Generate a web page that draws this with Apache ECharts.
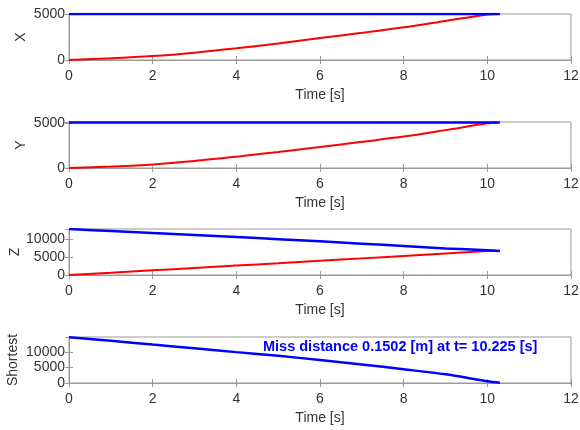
<!DOCTYPE html>
<html>
<head>
<meta charset="utf-8">
<script src="https://cdn.jsdelivr.net/npm/echarts@6/dist/echarts.min.js"></script>
<style>
  html, body { margin: 0; padding: 0; background: #fff; }
  #main { width: 580px; height: 430px; }
</style>
</head>
<body>
<div id="main"></div>
<script>
// time samples [s]
var tRed = [0, 1, 2, 3, 4, 5, 6, 7, 8, 9, 10, 10.225];
var tBlue = [0, 1, 2, 3, 4, 5, 6, 7, 8, 9, 10, 10.3];

// red curves (pursuer)
var xRed = [0, 180, 430, 800, 1270, 1800, 2390, 2950, 3550, 4250, 4950, 5000];
var yRed = [0, 170, 400, 780, 1260, 1780, 2330, 2900, 3480, 4200, 4950, 5050];
var zRed = [0, 640, 1290, 1940, 2600, 3250, 3920, 4590, 5260, 5940, 6620, 6720];

// blue curves (target)
var xBlue = [5000, 5000, 5000, 5000, 5000, 5000, 5000, 5000, 5000, 5000, 5000, 5000];
var yBlue = [5050, 5050, 5050, 5050, 5050, 5050, 5050, 5050, 5050, 5050, 5050, 5050];
var zBlue = [12700, 12150, 11600, 11050, 10500, 9900, 9300, 8650, 8000, 7350, 6850, 6650];
var shortest = [14800, 13650, 12450, 11250, 10000, 8800, 7450, 6000, 4450, 2800, 600, 100];

var yNames = ['X', 'Y', 'Z', 'Shortest'];
var yMax = [5000, 5100, 12700, 14900];
var xTicks = [0, 12, 2];
var missText = 'Miss distance 0.1502 [m] at t= 10.225 [s]';

var dom = document.getElementById('main');
var myChart = echarts.init(dom);

var font = 'Liberation Sans, Arial, Helvetica, sans-serif';
var gridTops = [14, 122, 229, 337];
var nameGaps = [41, 41, 47, 49];

function pairs(t, v) {
    var out = [];
    for (var i = 0; i < t.length; i++) out.push([t[i], v[i]]);
    return out;
}
function plain(v) { return String(v); }

var grids = [], xAxes = [], yAxes = [], series = [];
var redSets = [xRed, yRed, zRed, null];
var blueSets = [xBlue, yBlue, zBlue, shortest];

for (var g = 0; g < 4; g++) {
    grids.push({left: 69, right: 9, top: gridTops[g], height: 46, outerBoundsMode: 'none',
        containLabel: false,
        show: true, borderColor: '#999', borderWidth: 1, backgroundColor: '#fff'});
    xAxes.push({
        type: 'value', gridIndex: g, min: xTicks[0], max: xTicks[1], interval: xTicks[2],
        position: 'bottom',
        name: 'Time [s]', nameLocation: 'middle', nameGap: 28, nameMoveOverlap: false,
        nameTextStyle: {fontFamily: font, fontSize: 14, color: '#333'},
        axisLine: {lineStyle: {color: '#999'}},
        axisTick: {inside: true, length: 4, lineStyle: {color: '#999'}},
        axisLabel: {fontFamily: font, fontSize: 14, color: '#333', margin: 9, formatter: plain},
        splitLine: {show: false}
    });
    xAxes.push({
        type: 'value', gridIndex: g, min: xTicks[0], max: xTicks[1], interval: xTicks[2],
        position: 'top',
        axisLine: {lineStyle: {color: '#999'}},
        axisTick: {inside: true, length: 4, lineStyle: {color: '#999'}},
        axisLabel: {show: false},
        splitLine: {show: false}
    });
    yAxes.push({
        type: 'value', gridIndex: g, min: 0, max: yMax[g], interval: 5000,
        position: 'left',
        name: yNames[g], nameLocation: 'middle', nameGap: nameGaps[g], nameMoveOverlap: false,
        nameTextStyle: {fontFamily: font, fontSize: 14, color: '#333'},
        axisLine: {show: true, lineStyle: {color: '#999'}},
        axisTick: {show: true, inside: true, length: 4, lineStyle: {color: '#999'}},
        axisLabel: {fontFamily: font, fontSize: 14, color: '#333', margin: 4,
            showMaxLabel: g === 0, formatter: plain},
        splitLine: {show: false}
    });
    yAxes.push({
        type: 'value', gridIndex: g, min: 0, max: yMax[g], interval: 5000,
        position: 'right',
        axisLine: {show: true, lineStyle: {color: '#999'}},
        axisTick: {show: true, inside: true, length: 4, lineStyle: {color: '#999'}},
        axisLabel: {show: false},
        splitLine: {show: false}
    });
    if (redSets[g]) {
        series.push({
            type: 'line', xAxisIndex: g * 2, yAxisIndex: g * 2,
            data: pairs(tRed, redSets[g]), smooth: 0.3, showSymbol: false,
            lineStyle: {color: '#ff0000', width: 2}, z: 2
        });
    }
    series.push({
        type: 'line', xAxisIndex: g * 2, yAxisIndex: g * 2,
        data: pairs(tBlue, blueSets[g]), smooth: 0.3, showSymbol: false,
        lineStyle: {color: '#0000ff', width: 2.5}, z: 3
    });
}

option = {
    backgroundColor: '#ffffff',
    animation: false,
    grid: grids,
    xAxis: xAxes,
    yAxis: yAxes,
    series: series,
    graphic: [{
        type: 'text', left: 263, top: 339,
        style: {text: missText, fill: '#0000ff', fontFamily: font, fontSize: 14.5, fontWeight: 'bold'}
    }]
};

myChart.setOption(option);
</script>
</body>
</html>
